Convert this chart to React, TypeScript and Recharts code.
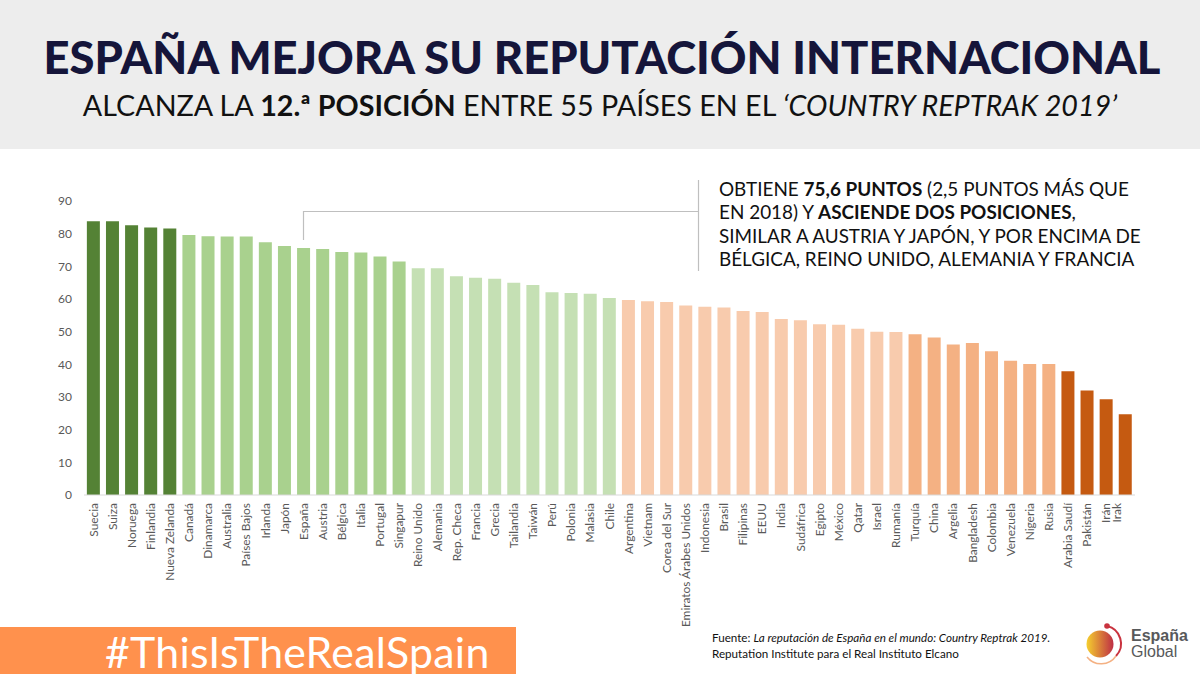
import React from 'react'
import { BarChart, Bar, Cell, XAxis, YAxis } from 'recharts'

const countries = [
  'Suecia', 'Suiza', 'Noruega', 'Finlandia', 'Nueva Zelanda', 'Canadá', 'Dinamarca', 'Australia', 'Países Bajos',
  'Irlanda', 'Japón', 'España', 'Austria', 'Bélgica', 'Italia', 'Portugal', 'Singapur', 'Reino Unido', 'Alemania',
  'Rep. Checa', 'Francia', 'Grecia', 'Tailandia', 'Taiwán', 'Perú', 'Polonia', 'Malasia', 'Chile', 'Argentina',
  'Vietnam', 'Corea del Sur', 'Emiratos Árabes Unidos', 'Indonesia', 'Brasil', 'Filipinas', 'EEUU', 'India',
  'Sudáfrica', 'Egipto', 'México', 'Qatar', 'Israel', 'Rumanía', 'Turquía', 'China', 'Argelia', 'Bangladesh',
  'Colombia', 'Venezuela', 'Nigeria', 'Rusia', 'Arabia Saudí', 'Pakistán', 'Irán', 'Irak',
]

const scores = [
  83.8, 83.8, 82.6, 81.9, 81.6, 79.6, 79.2, 79.1, 79.1,
  77.4, 76.2, 75.6, 75.3, 74.4, 74.2, 73, 71.5, 69.4, 69.4,
  67, 66.5, 66.2, 65, 64.3, 62.1, 61.8, 61.6, 60.3, 59.7,
  59.3, 59.1, 58, 57.6, 57.4, 56.3, 56, 53.9,
  53.5, 52.3, 52.1, 50.9, 50, 49.9, 49.2, 48.2, 46.1, 46.5,
  44, 41.1, 40.1, 40.1, 37.9, 32, 29.3, 24.7,
]

// how many countries fall in each colour band, best to worst
const bandSizes = [5, 12, 11, 15, 8, 4]
const bandColors = ['#548235', '#A9D18E', '#C5E0B4', '#F8CBAD', '#F4B183', '#C55A11']
const yTicks = [0, 10, 20, 30, 40, 50, 60, 70, 80, 90]

const data = countries.map((name, i) => ({ name, score: scores[i] }))
const barColors = bandSizes.flatMap((n, i) => Array(n).fill(bandColors[i]))

const FONT = 'Lato, sans-serif'

const CountryTick = ({ x, y, payload }: any) => {
  // the last label sits tight against Irán in the original
  const nudge = payload.value === 'Irak' ? -8.5 : 0
  return (
    <text
      transform={`translate(${x + nudge + 4},${y}) rotate(-90)`}
      textAnchor="end"
      fontFamily={FONT}
      fontSize={11.9}
      fill="#595959"
    >
      {payload.value}
    </text>
  )
}

const App = () => {
  return (
    <div style={{ position: 'absolute', left: 0, top: 0, width: 1200, height: 674, background: '#fff', overflow: 'hidden', fontFamily: FONT }}>
      <div style={{ position: 'absolute', left: 0, top: 0, width: 1200, height: 149, background: '#EDEDED' }} />
      <div style={{ position: 'absolute', left: 2, top: 30, width: 1200, textAlign: 'center', fontSize: 45.3, lineHeight: '54px', fontWeight: 900, color: '#15153A', whiteSpace: 'nowrap' }}>
        ESPAÑA MEJORA SU REPUTACIÓN INTERNACIONAL
      </div>
      <div style={{ position: 'absolute', left: 0, top: 87, width: 1200, textAlign: 'center', fontSize: 28.7, lineHeight: '36px', color: '#111', whiteSpace: 'nowrap' }}>
        ALCANZA LA <b>12.ª POSICIÓN</b> ENTRE 55 PAÍSES EN EL <i>‘COUNTRY REPTRAK 2019’</i>
      </div>

      <div style={{ position: 'absolute', left: 0, top: 0 }}>
        <BarChart
          width={1200}
          height={674}
          data={data}
          barCategoryGap="15%"
          margin={{ top: 201, right: 65, bottom: 0, left: 44 }}
        >
          <YAxis
            width={40}
            domain={[0, 90]}
            ticks={yTicks}
            interval={0}
            axisLine={false}
            tickLine={false}
            tickSize={0}
            tickMargin={12}
            tick={{ fontFamily: FONT, fontSize: 12, fill: '#595959' }}
          />
          <XAxis
            dataKey="name"
            interval={0}
            height={179}
            axisLine={{ stroke: '#D9D9D9' }}
            tickLine={false}
            tickSize={0}
            tickMargin={8}
            tick={<CountryTick />}
          />
          <Bar dataKey="score" isAnimationActive={false}>
            {data.map((d, i) => (
              <Cell key={d.name} fill={barColors[i]} />
            ))}
          </Bar>
        </BarChart>
      </div>

      <svg width={1200} height={674} style={{ position: 'absolute', left: 0, top: 0, pointerEvents: 'none' }}>
        <path d="M303.5 240 V211.5 H698.5" fill="none" stroke="#BFBFBF" strokeWidth={1.2} />
        <path d="M698.5 180 V271" fill="none" stroke="#BFBFBF" strokeWidth={1.2} />
      </svg>

      <div style={{ position: 'absolute', left: 719, top: 177, width: 470, fontSize: 18.9, lineHeight: '23.4px', color: '#111', whiteSpace: 'nowrap' }}>
        OBTIENE <b>75,6 PUNTOS</b> (2,5 PUNTOS MÁS QUE<br />
        EN 2018) Y <b>ASCIENDE DOS POSICIONES</b>,<br />
        SIMILAR A AUSTRIA Y JAPÓN, Y POR ENCIMA DE<br />
        BÉLGICA, REINO UNIDO, ALEMANIA Y FRANCIA
      </div>

      <div style={{ position: 'absolute', left: 0, top: 627, width: 516, height: 47, background: '#FF914D' }} />
      <div style={{ position: 'absolute', left: 105, top: 630, height: 44, fontSize: 42.8, lineHeight: '44px', color: '#fff', whiteSpace: 'nowrap', letterSpacing: 0.3 }}>
        #ThisIsTheRealSpain
      </div>

      <div style={{ position: 'absolute', left: 712, top: 630, fontSize: 11.65, lineHeight: '15.5px', color: '#111', whiteSpace: 'nowrap' }}>
        Fuente: <i>La reputación de España en el mundo: Country Reptrak 2019.</i><br />
        Reputation Institute para el Real Instituto Elcano
      </div>

      <svg width={50} height={50} viewBox="0 0 50 50" style={{ position: 'absolute', left: 1080, top: 620 }}>
        <defs>
          <linearGradient id="logoFill" x1="0" x2="1" y1="0" y2="0">
            <stop offset="0%" stopColor="#F5CF2E" />
            <stop offset="100%" stopColor="#BE2E45" />
          </linearGradient>
        </defs>
        <circle cx="20" cy="24" r="13.5" fill="url(#logoFill)" />
        <path d="M27 6 A18 18 0 0 1 36 36" fill="none" stroke="#C9333F" strokeWidth={2} />
        <path d="M36 36 A18 18 0 0 1 7 37" fill="none" stroke="#F4B183" strokeWidth={1.5} />
        <circle cx="27" cy="6" r="2.8" fill="#C9333F" />
      </svg>
      <div style={{ position: 'absolute', left: 1131, top: 628, fontFamily: '"Liberation Sans", sans-serif', fontSize: 16, lineHeight: '16px', color: '#58595B' }}>
        <b>España</b><br />Global
      </div>
    </div>
  )
}

export default App
